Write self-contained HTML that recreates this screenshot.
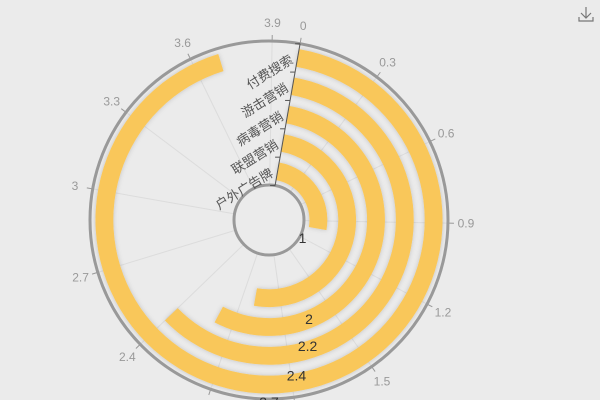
<!DOCTYPE html>
<html><head><meta charset="utf-8"><style>
html,body{margin:0;background:#ebebeb;width:600px;height:400px;overflow:hidden;}
svg{display:block;overflow:hidden;font-family:"Liberation Sans","Noto Sans CJK SC",sans-serif;}
</style></head><body>
<svg id="c" width="600" height="400" viewBox="0 0 600 400">
<defs><filter id="sh" x="-20%" y="-20%" width="140%" height="140%"><feDropShadow dx="0" dy="0" stdDeviation="2.5" flood-color="#000" flood-opacity="0.18"/></filter>
<clipPath id="clip"><rect width="600" height="400"/></clipPath></defs>
<rect width="600" height="400" fill="#ebebeb"/>
<g clip-path="url(#clip)"><g id="grid"></g><g id="bars"></g><g id="axes"></g><g id="labels"></g></g>
<g stroke="#777" stroke-width="1.2" fill="none">
<path d="M586 7 V18 M581 13 L586 18 L591 13 M579 17 V21 H593 V17"/>
</g>
</svg>
<script>
const categories=["户外广告牌","联盟营销","病毒营销","游击营销","付费搜索"];
const values=[1,2,2.2,2.4,3.7];
const angleTicks=[0,0.3,0.6,0.9,1.2,1.5,1.8,2.1,2.4,2.7,3,3.3,3.6,3.9];
const angleMax=4;
const cx=269,cy=220,rIn=35,rOut=179,start=10;
const ns="http://www.w3.org/2000/svg";
const band=(rOut-rIn)/categories.length;
function ang(v){return start+v/angleMax*360;}
function pt(r,a){const t=a*Math.PI/180;return [cx+r*Math.sin(t),cy-r*Math.cos(t)];}
function mk(tag,attrs,parent){const e=document.createElementNS(ns,tag);for(const k in attrs)e.setAttribute(k,attrs[k]);document.getElementById(parent).appendChild(e);return e;}
angleTicks.forEach((t,i)=>{
 const a=ang(t),p0=pt(rIn,a),p1=pt(rOut,a);
 const l=mk('line',{x1:p0[0],y1:p0[1],x2:p1[0],y2:p1[1],stroke:'#dcdcdc','stroke-width':1},'grid');
 
 
});
values.forEach((v,i)=>{
 const rc=rIn+band*(i+0.5),w=band*0.62,r0=rc-w/2,r1=rc+w/2;
 const a0=ang(0),a1=ang(v),large=(a1-a0)>180?1:0;
 const p0=pt(r1,a0),p1=pt(r1,a1),p2=pt(r0,a1),p3=pt(r0,a0);
 const d=`M${p0[0]},${p0[1]} A${r1},${r1} 0 ${large} 1 ${p1[0]},${p1[1]} L${p2[0]},${p2[1]} A${r0},${r0} 0 ${large} 0 ${p3[0]},${p3[1]}Z`;
 const b=mk('path',{d:d,fill:'#f9c75a',filter:'url(#sh)'},'bars');
 
 
});
const oc=mk('circle',{cx:cx,cy:cy,r:rOut,fill:'none',stroke:'#999','stroke-width':3},'axes');


const ic=mk('circle',{cx:cx,cy:cy,r:rIn,fill:'#ebebeb',stroke:'#999','stroke-width':3},'axes');


angleTicks.forEach(t=>{
 const a=ang(t),p0=pt(rOut+1,a),p1=pt(rOut+6,a),pl=pt(rOut+18,a);
 const tk=mk('line',{x1:p0[0],y1:p0[1],x2:p1[0],y2:p1[1],stroke:'#999','stroke-width':1},'axes');
 
 
 const tx=mk('text',{x:pl[0],y:pl[1]+4,'text-anchor':'middle','font-size':12,fill:'#999'},'axes');
 tx.textContent=t;
 
 
});
{const p0=pt(rIn,start),p1=pt(rOut,start);
 const l=mk('line',{x1:p0[0],y1:p0[1],x2:p1[0],y2:p1[1],stroke:'#555','stroke-width':1},'axes');
 
 
 for(let i=0;i<=categories.length;i++){
  const r=rIn+band*i,a=pt(r,start);
  const tk=mk('line',{x1:a[0],y1:a[1],x2:a[0]-5,y2:a[1],stroke:'#555','stroke-width':1},'axes');
  
  
 }
 categories.forEach((c,i)=>{
  const p=pt(rIn+band*(i+0.5),start);
  const tx=mk('text',{x:p[0]-6,y:p[1]+5,'text-anchor':'end','font-size':13,fill:'#555',transform:`rotate(-32 ${p[0]-6} ${p[1]})`},'axes');
  tx.textContent=c;
  
  
 });
}
const labelAnchor=[[38,118],[107,158],[132,163],[158,170],[182,180]];
values.forEach((v,i)=>{
 const la=labelAnchor[i],p=pt(la[0],la[1]);
 const tx=mk('text',{x:p[0],y:p[1]+5,'text-anchor':'middle','font-size':14,fill:'#333'},'labels');
 tx.textContent=v;
 
 
});
</script>
</body></html>
